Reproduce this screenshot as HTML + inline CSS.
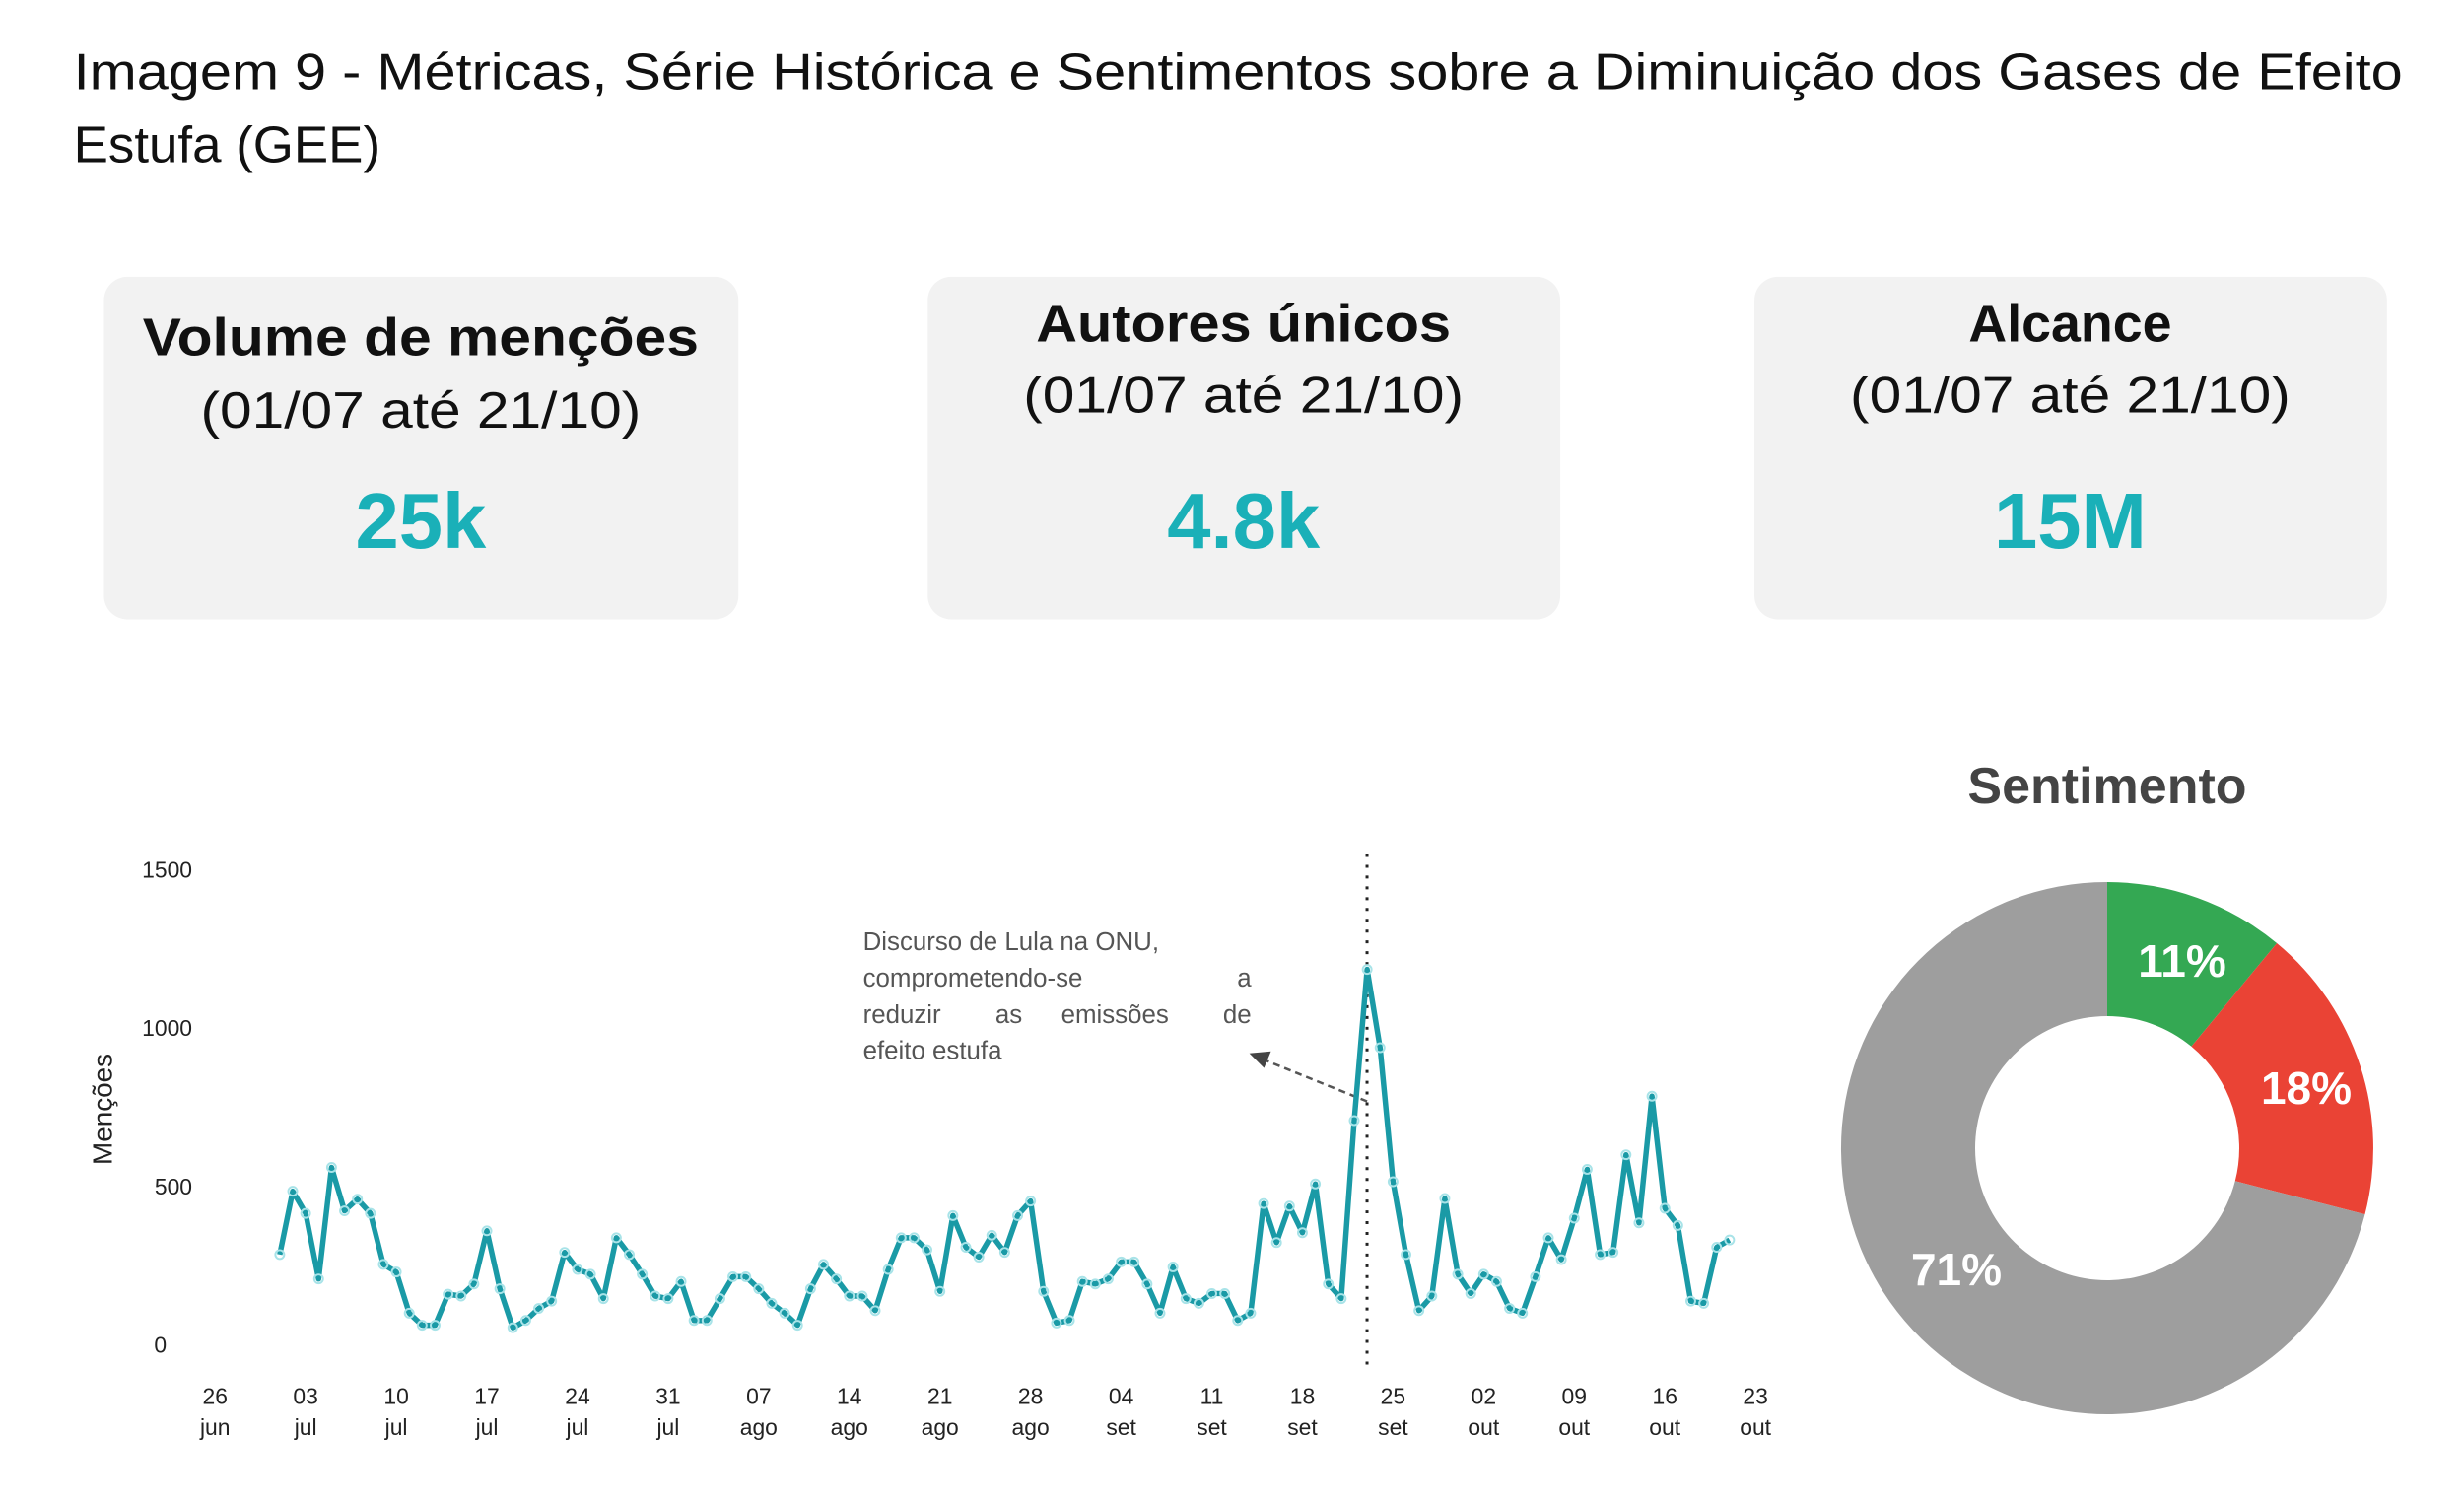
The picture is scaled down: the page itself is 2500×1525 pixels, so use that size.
<!DOCTYPE html>
<html><head><meta charset="utf-8"><style>
html,body{margin:0;padding:0;background:#fff;}
svg{display:block;}
text{font-family:"Liberation Sans",Arial,sans-serif;}
</style></head><body>
<svg id="s" width="2500" height="1525" viewBox="0 0 2500 1525" xmlns="http://www.w3.org/2000/svg">
<g transform="scale(0.995,0.996)">
<text x="75" y="91" font-size="52" fill="#111" textLength="2375" lengthAdjust="spacingAndGlyphs">Imagem 9 - Métricas, Série Histórica e Sentimentos sobre a Diminuição dos Gases de Efeito</text>
<text x="75" y="165" font-size="52" fill="#111" textLength="313" lengthAdjust="spacingAndGlyphs">Estufa (GEE)</text>

<rect x="106" y="282" width="647" height="349" rx="24" fill="#f2f2f2"/>
<rect x="946" y="282" width="645" height="349" rx="24" fill="#f2f2f2"/>
<rect x="1789" y="282" width="645" height="349" rx="24" fill="#f2f2f2"/>

<text x="429" y="362" font-size="54" font-weight="bold" text-anchor="middle" fill="#111" textLength="567" lengthAdjust="spacingAndGlyphs">Volume de menções</text>
<text x="429" y="436" font-size="52" text-anchor="middle" fill="#111" textLength="449" lengthAdjust="spacingAndGlyphs">(01/07 até 21/10)</text>
<text x="429" y="558" font-size="80" font-weight="bold" text-anchor="middle" fill="#1ab0b8">25k</text>

<text x="1268" y="348" font-size="54" font-weight="bold" text-anchor="middle" fill="#111" textLength="423" lengthAdjust="spacingAndGlyphs">Autores únicos</text>
<text x="1268" y="420" font-size="52" text-anchor="middle" fill="#111" textLength="449" lengthAdjust="spacingAndGlyphs">(01/07 até 21/10)</text>
<text x="1268" y="558" font-size="80" font-weight="bold" text-anchor="middle" fill="#1ab0b8">4.8k</text>

<text x="2111" y="348" font-size="54" font-weight="bold" text-anchor="middle" fill="#111">Alcance</text>
<text x="2111" y="420" font-size="52" text-anchor="middle" fill="#111" textLength="449" lengthAdjust="spacingAndGlyphs">(01/07 até 21/10)</text>
<text x="2111" y="558" font-size="80" font-weight="bold" text-anchor="middle" fill="#1ab0b8">15M</text>

<g font-size="23" fill="#222" text-anchor="end">
<text x="196" y="894">1500</text>
<text x="196" y="1055">1000</text>
<text x="196" y="1217">500</text>
<text x="170" y="1378">0</text>
</g>
<text transform="translate(114,1130) rotate(-90)" font-size="28" text-anchor="middle" fill="#222">Menções</text>

<g id="xt" font-size="23" fill="#222" text-anchor="middle"></g>

<line x1="1394" y1="870" x2="1394" y2="1394" stroke="#222" stroke-width="3" stroke-dasharray="3,8"/>

<g font-size="26" fill="#555">
<text x="880" y="968">Discurso de Lula na ONU,</text>
<text x="880" y="1005">comprometendo-se</text><text x="1276" y="1005" text-anchor="end">a</text>
<text x="880" y="1042">reduzir</text><text x="1015" y="1042">as</text><text x="1082" y="1042">emissões</text><text x="1276" y="1042" text-anchor="end">de</text>
<text x="880" y="1079">efeito estufa</text>
</g>
<line x1="1394" y1="1122" x2="1290" y2="1080" stroke="#555" stroke-width="2.5" stroke-dasharray="7,5"/>
<polygon points="1274,1073 1296,1071 1289,1088" fill="#444"/>

<polyline id="ln" fill="none" stroke="#1a9aa6" stroke-width="5.5" stroke-linejoin="round"/>
<g id="pts"></g>
</g>

<text x="2138" y="815" font-size="52" font-weight="bold" text-anchor="middle" fill="#444">Sentimento</text>
<path d="M2138,895 A270,270 0 0 1 2310.1,957 L2223.4,1061.8 A134,134 0 0 0 2138,1031 Z" fill="#34a853"/>
<path d="M2310.1,957 A270,270 0 0 1 2399.5,1232.1 L2267.8,1198.3 A134,134 0 0 0 2223.4,1061.8 Z" fill="#ea4335"/>
<path d="M2399.5,1232.1 A270,270 0 1 1 2138,895 L2138,1031 A134,134 0 1 0 2267.8,1198.3 Z" fill="#9e9e9e"/>
<g font-size="46" font-weight="bold" fill="#fff" text-anchor="middle">
<text x="2214" y="991">11%</text>
<text x="2340" y="1120">18%</text>
<text x="1985" y="1304">71%</text>
</g>
</svg>
<script>
var v=[285,485,415,208,560,423,460,415,254,230,100,62,62,160,154,192,360,177,54,77,115,138,292,238,223,146,338,285,223,154,146,200,77,77,146,215,215,177,131,100,62,177,254,208,154,154,108,238,338,338,300,169,408,308,277,346,292,408,454,169,69,77,200,192,208,262,262,192,100,246,146,131,162,162,77,100,446,323,438,354,508,192,146,708,1185,938,515,285,108,154,462,223,162,223,200,115,100,215,338,269,400,554,285,292,600,385,785,431,377,138,131,308,331];
var ns="http://www.w3.org/2000/svg",p=[],g=document.getElementById('pts');
v.forEach(function(y,i){var X=285.3+13.2*i,Y=1370-y*0.3227;p.push(X.toFixed(1)+','+Y.toFixed(1));
var c=document.createElementNS(ns,'circle');c.setAttribute('cx',X);c.setAttribute('cy',Y);c.setAttribute('r',4.5);c.setAttribute('fill','none');c.setAttribute('stroke','#a8e3e8');c.setAttribute('stroke-width',2);g.appendChild(c);});
document.getElementById('ln').setAttribute('points',p.join(' '));
var L=[['26','jun'],['03','jul'],['10','jul'],['17','jul'],['24','jul'],['31','jul'],['07','ago'],['14','ago'],['21','ago'],['28','ago'],['04','set'],['11','set'],['18','set'],['25','set'],['02','out'],['09','out'],['16','out'],['23','out']];
var xt=document.getElementById('xt');
L.forEach(function(l,k){var X=285.3+13.2*(-5+7*k);[[l[0],1430],[l[1],1462]].forEach(function(t){var e=document.createElementNS(ns,'text');e.setAttribute('x',X);e.setAttribute('y',t[1]);e.textContent=t[0];xt.appendChild(e);});});
</script>
</body></html>
